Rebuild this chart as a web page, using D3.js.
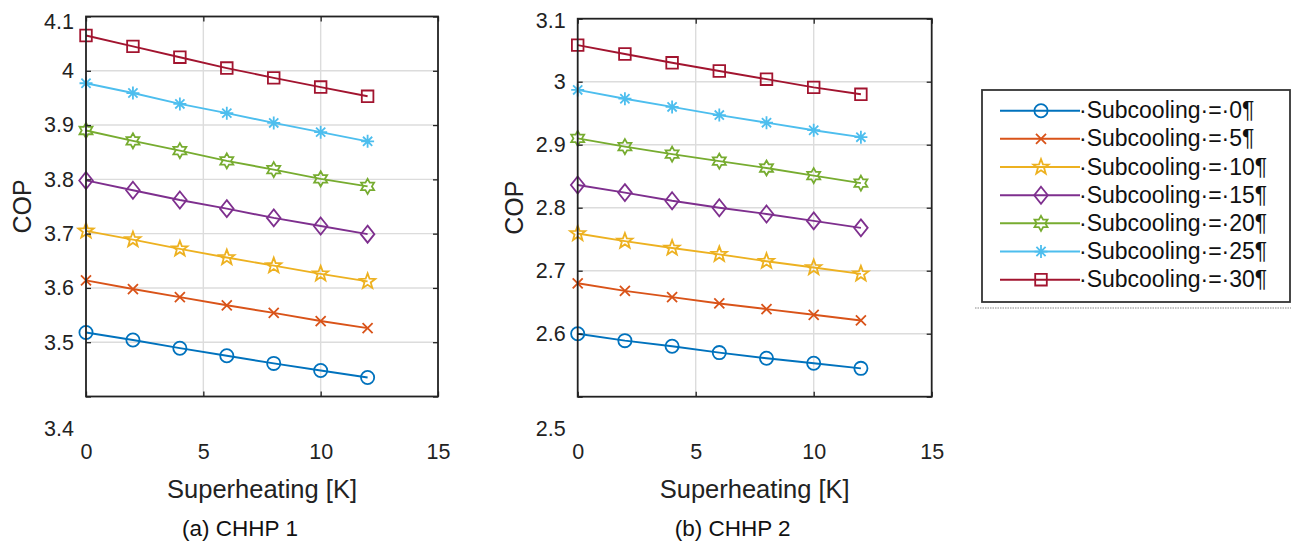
<!DOCTYPE html>
<html>
<head>
<meta charset="utf-8">
<script src="https://cdn.jsdelivr.net/npm/d3@7"></script>
<style>
  body { margin: 0; background: #fff; }
  svg { display: block; font-family: 'Liberation Sans', Arial, sans-serif; }
</style>
</head>
<body>
<svg id="chart" width="1301" height="550"></svg>
<script>
// data
const superheat = [0, 2, 4, 6, 8, 10, 12]
const subcooling = [0, 5, 10, 15, 20, 25, 30]
const xTicks = [0, 5, 10, 15]
const yTicks1 = [3.4, 3.5, 3.6, 3.7, 3.8, 3.9, 4.0, 4.1]
const yTicks2 = [2.5, 2.6, 2.7, 2.8, 2.9, 3.0, 3.1]

// CHHP 1, one row per subcooling value
const chhp1Cop = [
  [3.518, 3.504, 3.489, 3.475, 3.461, 3.448, 3.435],
  [3.614, 3.598, 3.583, 3.568, 3.554, 3.539, 3.526],
  [3.705, 3.689, 3.672, 3.656, 3.641, 3.626, 3.612],
  [3.798, 3.780, 3.762, 3.746, 3.729, 3.714, 3.699],
  [3.890, 3.871, 3.853, 3.834, 3.818, 3.801, 3.787],
  [3.977, 3.959, 3.939, 3.922, 3.904, 3.887, 3.870],
  [4.065, 4.045, 4.025, 4.005, 3.987, 3.970, 3.953]
]
// CHHP 2
const chhp2Cop = [
  [2.600, 2.589, 2.580, 2.570, 2.561, 2.553, 2.545],
  [2.680, 2.668, 2.658, 2.648, 2.639, 2.630, 2.621],
  [2.759, 2.747, 2.736, 2.726, 2.715, 2.705, 2.695],
  [2.836, 2.824, 2.811, 2.800, 2.790, 2.779, 2.768],
  [2.910, 2.897, 2.885, 2.874, 2.863, 2.851, 2.839],
  [2.987, 2.973, 2.960, 2.947, 2.935, 2.923, 2.912],
  [3.058, 3.044, 3.030, 3.017, 3.004, 2.991, 2.980]
]

const colors = ['#0072BD', '#D95319', '#EDB120', '#7E2F8E', '#77AC30', '#4DBEEE', '#A2142F']
const markers = ['circle', 'x', 'pentagram', 'diamond', 'hexagram', 'asterisk', 'square']

const svg = d3.select('#chart')
const ink = '#222'

// marker outlines, centred on 0,0
function starPath (n, ro, ri) {
  var pts = []
  for (var i = 0; i < 2 * n; i++) {
    var a = -Math.PI / 2 + i * Math.PI / n
    var r = i % 2 === 0 ? ro : ri
    pts.push([r * Math.cos(a), r * Math.sin(a)])
  }
  return 'M' + pts.map(function (p) { return p[0].toFixed(2) + ',' + p[1].toFixed(2) }).join('L') + 'Z'
}
function markerPath (kind) {
  switch (kind) {
    case 'circle': return 'M6.6,0A6.6,6.6 0 1,1 -6.6,0A6.6,6.6 0 1,1 6.6,0Z'
    case 'x': return 'M-5,-5L5,5M-5,5L5,-5'
    case 'pentagram': return starPath(5, 8, 3.3)
    case 'diamond': return 'M0,-8.5L6.8,0L0,8.5L-6.8,0Z'
    case 'hexagram': return starPath(6, 7.5, 4.3)
    case 'asterisk': return 'M0,-6.5V6.5M-6.5,0H6.5M-4.6,-4.6L4.6,4.6M-4.6,4.6L4.6,-4.6'
    case 'square': return 'M-5.8,-5.8H5.8V5.8H-5.8Z'
  }
}

function drawPanel (cfg) {
  var x = d3.scaleLinear().domain([0, 15]).range([cfg.left, cfg.right])
  var y = d3.scaleLinear().domain(cfg.yDomain).range([cfg.bottom, cfg.top])
  var g = svg.append('g')

  // grid
  g.append('g').selectAll('line.gx').data(xTicks.slice(1, -1)).join('line')
    .attr('x1', d => x(d)).attr('x2', d => x(d))
    .attr('y1', cfg.top).attr('y2', cfg.bottom)
    .attr('stroke', '#dcdcdc').attr('stroke-width', 1.4)
  g.append('g').selectAll('line.gy').data(cfg.yTicks.slice(1, -1)).join('line')
    .attr('y1', d => y(d)).attr('y2', d => y(d))
    .attr('x1', cfg.left).attr('x2', cfg.right)
    .attr('stroke', '#dcdcdc').attr('stroke-width', 1.4)

  // series
  var line = d3.line().x((d, i) => x(superheat[i])).y(d => y(d))
  cfg.data.forEach(function (row, s) {
    var sg = g.append('g')
    sg.append('path').datum(row).attr('d', line)
      .attr('fill', 'none').attr('stroke', colors[s]).attr('stroke-width', 1.9)
    sg.selectAll('path.m').data(row).join('path')
      .attr('class', 'm')
      .attr('d', markerPath(markers[s]))
      .attr('transform', (d, i) => 'translate(' + x(superheat[i]) + ',' + y(d) + ')')
      .attr('fill', 'none').attr('stroke', colors[s]).attr('stroke-width', 1.8)
  })

  // axes, MATLAB style ticks pointing in
  g.append('g').attr('transform', 'translate(0,' + cfg.bottom + ')')
    .call(d3.axisBottom(x).tickValues(xTicks).tickFormat(d3.format('d')).tickSize(-5).tickSizeOuter(0).tickPadding(47))
  var yAxis = g.append('g').attr('transform', 'translate(' + cfg.left + ',0)')
    .call(d3.axisLeft(y).tickValues(cfg.yTicks).tickFormat(d3.format('')).tickSize(-5).tickSizeOuter(0).tickPadding(12))
  g.append('g').attr('transform', 'translate(0,' + cfg.top + ')')
    .call(d3.axisTop(x).tickValues(xTicks).tickFormat('').tickSize(-5).tickSizeOuter(0))
  g.append('g').attr('transform', 'translate(' + cfg.right + ',0)')
    .call(d3.axisRight(y).tickValues(cfg.yTicks).tickFormat('').tickSize(-5).tickSizeOuter(0))
  g.selectAll('.domain').remove()
  g.selectAll('.tick line').attr('stroke', ink).attr('stroke-width', 1.3)
  g.selectAll('.tick text').attr('fill', ink).attr('font-size', 21.5).attr('font-family', 'Liberation Sans, Arial, sans-serif')
  // lowest y label sits below the box in the original
  yAxis.selectAll('.tick text').filter(d => d === cfg.yDomain[0]).attr('transform', 'translate(0,32)')
  yAxis.selectAll('.tick text').filter(d => d === cfg.yDomain[1]).attr('transform', 'translate(0,' + cfg.topShift + ')')

  g.append('rect')
    .attr('x', cfg.left).attr('y', cfg.top)
    .attr('width', cfg.right - cfg.left).attr('height', cfg.bottom - cfg.top)
    .attr('fill', 'none').attr('stroke', ink).attr('stroke-width', 1.8)

  g.append('text').attr('x', (cfg.left + cfg.right) / 2).attr('y', 498)
    .attr('text-anchor', 'middle').attr('font-size', 25.5).attr('fill', ink)
    .text('Superheating [K]')
  g.append('text')
    .attr('transform', 'translate(' + cfg.yLabelX + ',' + (cfg.top + cfg.bottom) / 2 + ') rotate(-90)')
    .attr('text-anchor', 'middle').attr('font-size', 25).attr('fill', ink)
    .text('COP')
  g.append('text').attr('x', (cfg.left + cfg.right) / 2 - 22).attr('y', 536)
    .attr('text-anchor', 'middle').attr('font-size', 22.5).attr('fill', '#111')
    .text(cfg.caption)
}

drawPanel({ left: 86, right: 438, top: 16.5, bottom: 396.5, yDomain: [3.4, 4.1], yTicks: yTicks1, data: chhp1Cop, yLabelX: 31, topShift: 5, caption: '(a) CHHP 1' })
drawPanel({ left: 577.7, right: 931.7, top: 18.7, bottom: 396.7, yDomain: [2.5, 3.1], yTicks: yTicks2, data: chhp2Cop, yLabelX: 523, topShift: 2, caption: '(b) CHHP 2' })

// legend
var leg = svg.append('g')
leg.append('rect').attr('x', 982).attr('y', 90).attr('width', 308).attr('height', 212)
  .attr('fill', '#fff').attr('stroke', '#333').attr('stroke-width', 1.8)
leg.append('line').attr('x1', 975).attr('x2', 1291).attr('y1', 308).attr('y2', 308)
  .attr('stroke', '#888').attr('stroke-width', 1.2).attr('stroke-dasharray', '1.5,1')
var ly = d3.scalePoint().domain(subcooling).range([110.7, 279.7])
subcooling.forEach(function (sc, s) {
  var row = leg.append('g').attr('transform', 'translate(0,' + ly(sc) + ')')
  row.append('line').attr('x1', 1000).attr('x2', 1080).attr('y1', 0).attr('y2', 0)
    .attr('stroke', colors[s]).attr('stroke-width', 2)
  row.append('path').attr('d', markerPath(markers[s])).attr('transform', 'translate(1041,0)')
    .attr('fill', 'none').attr('stroke', colors[s]).attr('stroke-width', 1.8)
  row.append('text').attr('x', 1079).attr('y', 7.5).attr('font-size', 23).attr('fill', '#111')
    .text('·Subcooling·=·' + sc + '¶')
})
</script>
</body>
</html>
